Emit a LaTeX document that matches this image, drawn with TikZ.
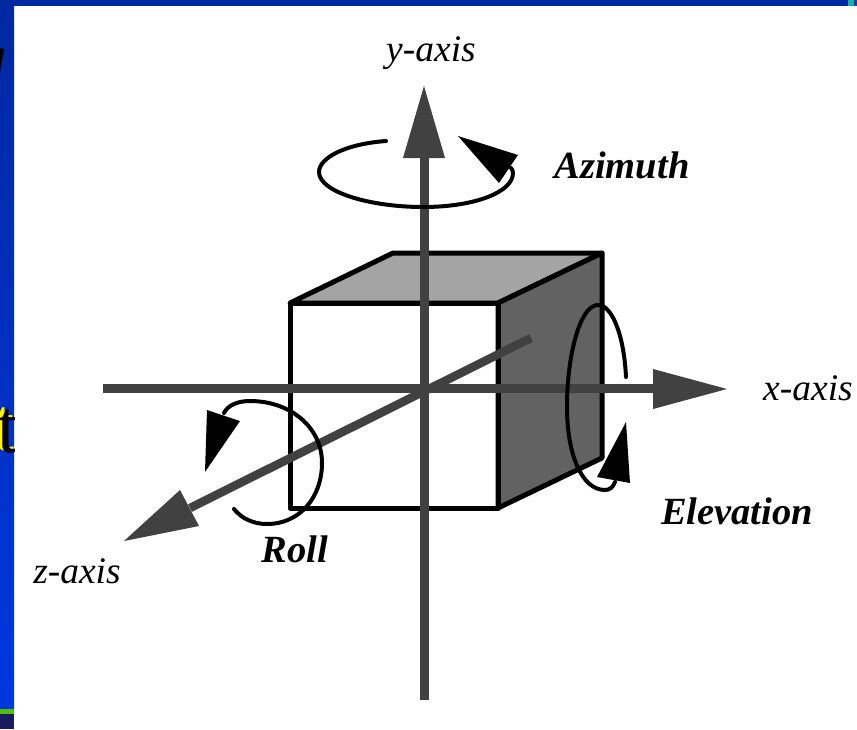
\documentclass[tikz,border=0pt]{standalone}
\usepackage{fontspec}
\setmainfont{Liberation Serif}
\definecolor{axisgray}{HTML}{414141}
\definecolor{topgray}{HTML}{A4A4A4}
\definecolor{sidegray}{HTML}{626262}
\definecolor{blueA}{HTML}{0028A0}
\definecolor{blueB}{HTML}{0038E0}
\definecolor{tealbit}{HTML}{18B0A0}
\definecolor{bluebit}{HTML}{3030B0}
\definecolor{greenbit}{HTML}{50C000}
\definecolor{navybit}{HTML}{1A1A60}
\begin{document}
\begin{tikzpicture}[x=1pt,y=-1pt,
  curve/.style={draw=black,line width=4pt,line cap=round},
  headblack/.style={fill=black},
  axisline/.style={draw=axisgray,line width=9pt},
  headgray/.style={fill=axisgray},
  edge/.style={draw=black,line width=5pt,line join=round},
  lab/.style={font=\fontsize{37.5}{42}\selectfont\itshape,inner sep=0pt},
  blab/.style={font=\fontsize{38.5}{44}\selectfont\bfseries\itshape,inner sep=0pt}]
\useasboundingbox (0,0) rectangle (857,729);
\fill[white] (0,0) rectangle (857,729);
% slide background
\shade[top color=blueA,bottom color=blueB] (0,0) rectangle (14,709);
\fill[blueA] (0,0) rectangle (848,6);
\fill[tealbit] (848,0) rectangle (854,6);
\fill[bluebit] (854,0) rectangle (857,6);
\fill[greenbit] (0,709) rectangle (14,714);
\fill[navybit] (0,714) rectangle (14,729);
\begin{scope}
\clip (0,0) rectangle (14,729);
\node[anchor=base east,inner sep=0pt,font=\fontsize{64}{70}\selectfont\itshape] (frag1) at (7,78) {g};
\node[anchor=base west,inner sep=0pt,text=yellow,font=\fontsize{76}{80}\selectfont] (frag2s) at (-7,450) {t};
\node[anchor=base west,inner sep=0pt,text=black,font=\fontsize{76}{80}\selectfont] (frag2) at (-3,452) {t};
\end{scope}
% cube faces
\coordinate (fa) at (290,303);
\coordinate (fb) at (498,303);
\coordinate (fc) at (498,508);
\coordinate (fd) at (290,508);
\coordinate (ba) at (393,253);
\coordinate (bb) at (602,253);
\coordinate (bc) at (602,458);
\filldraw[edge,fill=topgray] (fa) -- (ba) -- (bb) -- (fb) -- cycle;
\filldraw[edge,fill=sidegray] (fb) -- (bb) -- (bc) -- (fc) -- cycle;
\draw[edge] (fa) rectangle (fc);
% axes
\coordinate (yb) at (424,700);
\coordinate (yh) at (424,158);
\draw[axisline] (yb) -- (yh);
\fill[headgray] (424,86) -- (445,158) -- (403,158) -- cycle;
\coordinate (xb) at (103,388.5);
\coordinate (xh) at (653,388.5);
\draw[axisline] (xb) -- (xh);
\fill[headgray] (727,389) -- (653,409) -- (653,369) -- cycle;
\coordinate (zb) at (531,338);
\coordinate (zh) at (190,508);
\draw[axisline,line width=8.5pt] (zb) -- (zh);
\fill[headgray] (124,541) -- (180,490) -- (199,526) -- cycle;
% azimuth
\draw[curve] (386,141) .. controls (345,144) and (319,158) .. (319,172)
  .. controls (319,192) and (370,207) .. (423,207)
  .. controls (475,207) and (513,192) .. (513,173)
  .. controls (513,171) and (512,169) .. (511,168);
\fill[headblack] (458,136) -- (518,155) -- (499,183) -- cycle;
% elevation
\draw[curve] (626,377) .. controls (624,335) and (612,305) .. (598,305)
  .. controls (580,305) and (567,355) .. (567,407)
  .. controls (567,455) and (582,490) .. (605,490)
  .. controls (610,490) and (613,487) .. (615,482);
\fill[headblack] (626,422) -- (630,483) -- (597,477) -- cycle;
% roll
\draw[curve] (234,509) .. controls (242,519) and (254,524) .. (267,524)
  .. controls (300,524) and (322,497) .. (322,463)
  .. controls (322,427) and (290,401) .. (250,401)
  .. controls (238,401) and (228,405) .. (224,413);
\fill[headblack] (207,410) -- (240,421) -- (205,472) -- cycle;
% labels
\node[lab] (ylab) at (431,53) {y-axis};
\node[lab] (xlab) at (808,388) {x-axis};
\node[lab] (zlab) at (77,571) {z-axis};
\node[blab] (az) at (622,165) {Azimuth};
\node[blab] (el) at (737,511) {Elevation};
\node[blab] (ro) at (295,549) {Roll};
\end{tikzpicture}
\end{document}
